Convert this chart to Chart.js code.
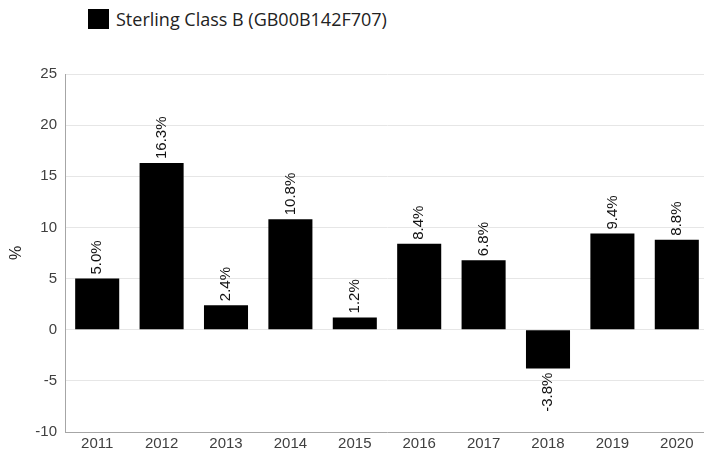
<!DOCTYPE html>
<html>
<head>
<meta charset="utf-8">
<script src="https://cdn.jsdelivr.net/npm/chart.js@4"></script>
<style>
    html, body {
        margin: 0;
        padding: 0;
        background: #ffffff;
        overflow: hidden;
    }

    #wrap {
        position: relative;
        width: 704px;
        height: 453px;
        overflow: hidden;
    }

    #legend {
        position: absolute;
        left: 88px;
        top: 7px;
        font-family: "Open Sans", sans-serif;
        font-size: 18px;
        color: #222222;
        display: flex;
        align-items: center;
        white-space: nowrap;
    }

    #legend .box {
        width: 21px;
        height: 20px;
        background: #000000;
        margin-right: 7px;
    }

    #chartCanvas {
        position: absolute;
        left: 0;
        top: 0;
    }
</style>
</head>
<body>
<div id="wrap">
    <div id="legend"><span class="box"></span><span id="legendText"></span></div>
    <canvas id="chartCanvas" width="709" height="453"></canvas>
</div>

<script>

/* =========================
   DATA
========================= */

const years = ["2011", "2012", "2013", "2014", "2015", "2016", "2017", "2018", "2019", "2020"];

const returns = [5.0, 16.3, 2.4, 10.8, 1.2, 8.4, 6.8, -3.8, 9.4, 8.8];

const seriesName = "Sterling Class B (GB00B142F707)";

const yTicks = [-10, -5, 0, 5, 10, 15, 20, 25];

document.getElementById("legendText").textContent = seriesName;

/* =========================
   VALUE LABELS
========================= */

const valueLabels = {

    id: "valueLabels",

    afterDatasetsDraw(chart) {

        const ctx = chart.ctx;
        const meta = chart.getDatasetMeta(0);

        ctx.save();
        ctx.font = "15px 'Liberation Sans', Arial, sans-serif";
        ctx.fillStyle = "#111111";
        ctx.textBaseline = "middle";

        meta.data.forEach((bar, i) => {

            const value = returns[i];
            const text = value.toFixed(1) + "%";

            ctx.save();
            ctx.translate(bar.x, bar.y);
            ctx.rotate(-Math.PI / 2);

            if (value >= 0) {
                ctx.textAlign = "left";
                ctx.fillText(text, 4, 0);
            } else {
                ctx.textAlign = "right";
                ctx.fillText(text, -4, 0);
            }

            ctx.restore();

        });

        ctx.restore();

    }

};

/* =========================
   CHART
========================= */

const tickFont = {
    family: "'Liberation Sans', Arial, sans-serif",
    size: 15
};

new Chart(document.getElementById("chartCanvas"), {

    type: "bar",

    data: {

        labels: years,

        datasets: [

            {

                label: seriesName,

                data: returns,

                backgroundColor: "#000000",

                borderWidth: 0,

                barPercentage: 0.684,

                categoryPercentage: 1

            }

        ]

    },

    options: {

        responsive: false,

        animation: false,

        layout: {
            padding: {
                top: 74,
                right: 0,
                bottom: 0,
                left: 0
            }
        },

        plugins: {

            legend: {
                display: false
            },

            tooltip: {
                enabled: false
            }

        },

        scales: {

            x: {

                grid: {
                    display: false,
                    drawTicks: false
                },

                border: {
                    color: "#a6a6a6",
                    width: 1
                },

                ticks: {
                    color: "#404040",
                    font: tickFont,
                    padding: 3,
                    maxRotation: 0
                },

                afterFit(scale) {
                    scale.height = 21;
                }

            },

            y: {

                min: -10,

                max: 25,

                afterBuildTicks(scale) {
                    scale.ticks = yTicks.map(v => ({ value: v }));
                },

                grid: {
                    color: "#e6e6e6",
                    drawTicks: false
                },

                border: {
                    color: "#a6a6a6",
                    width: 1
                },

                ticks: {
                    color: "#404040",
                    font: tickFont,
                    padding: 8
                },

                title: {
                    display: true,
                    text: "%",
                    color: "#222222",
                    font: {
                        family: "'Liberation Sans', Arial, sans-serif",
                        size: 16
                    },
                    padding: {
                        top: 7,
                        bottom: 0
                    }
                },

                afterFit(scale) {
                    scale.width = 65;
                }

            }

        }

    },

    plugins: [valueLabels]

});

</script>
</body>
</html>
